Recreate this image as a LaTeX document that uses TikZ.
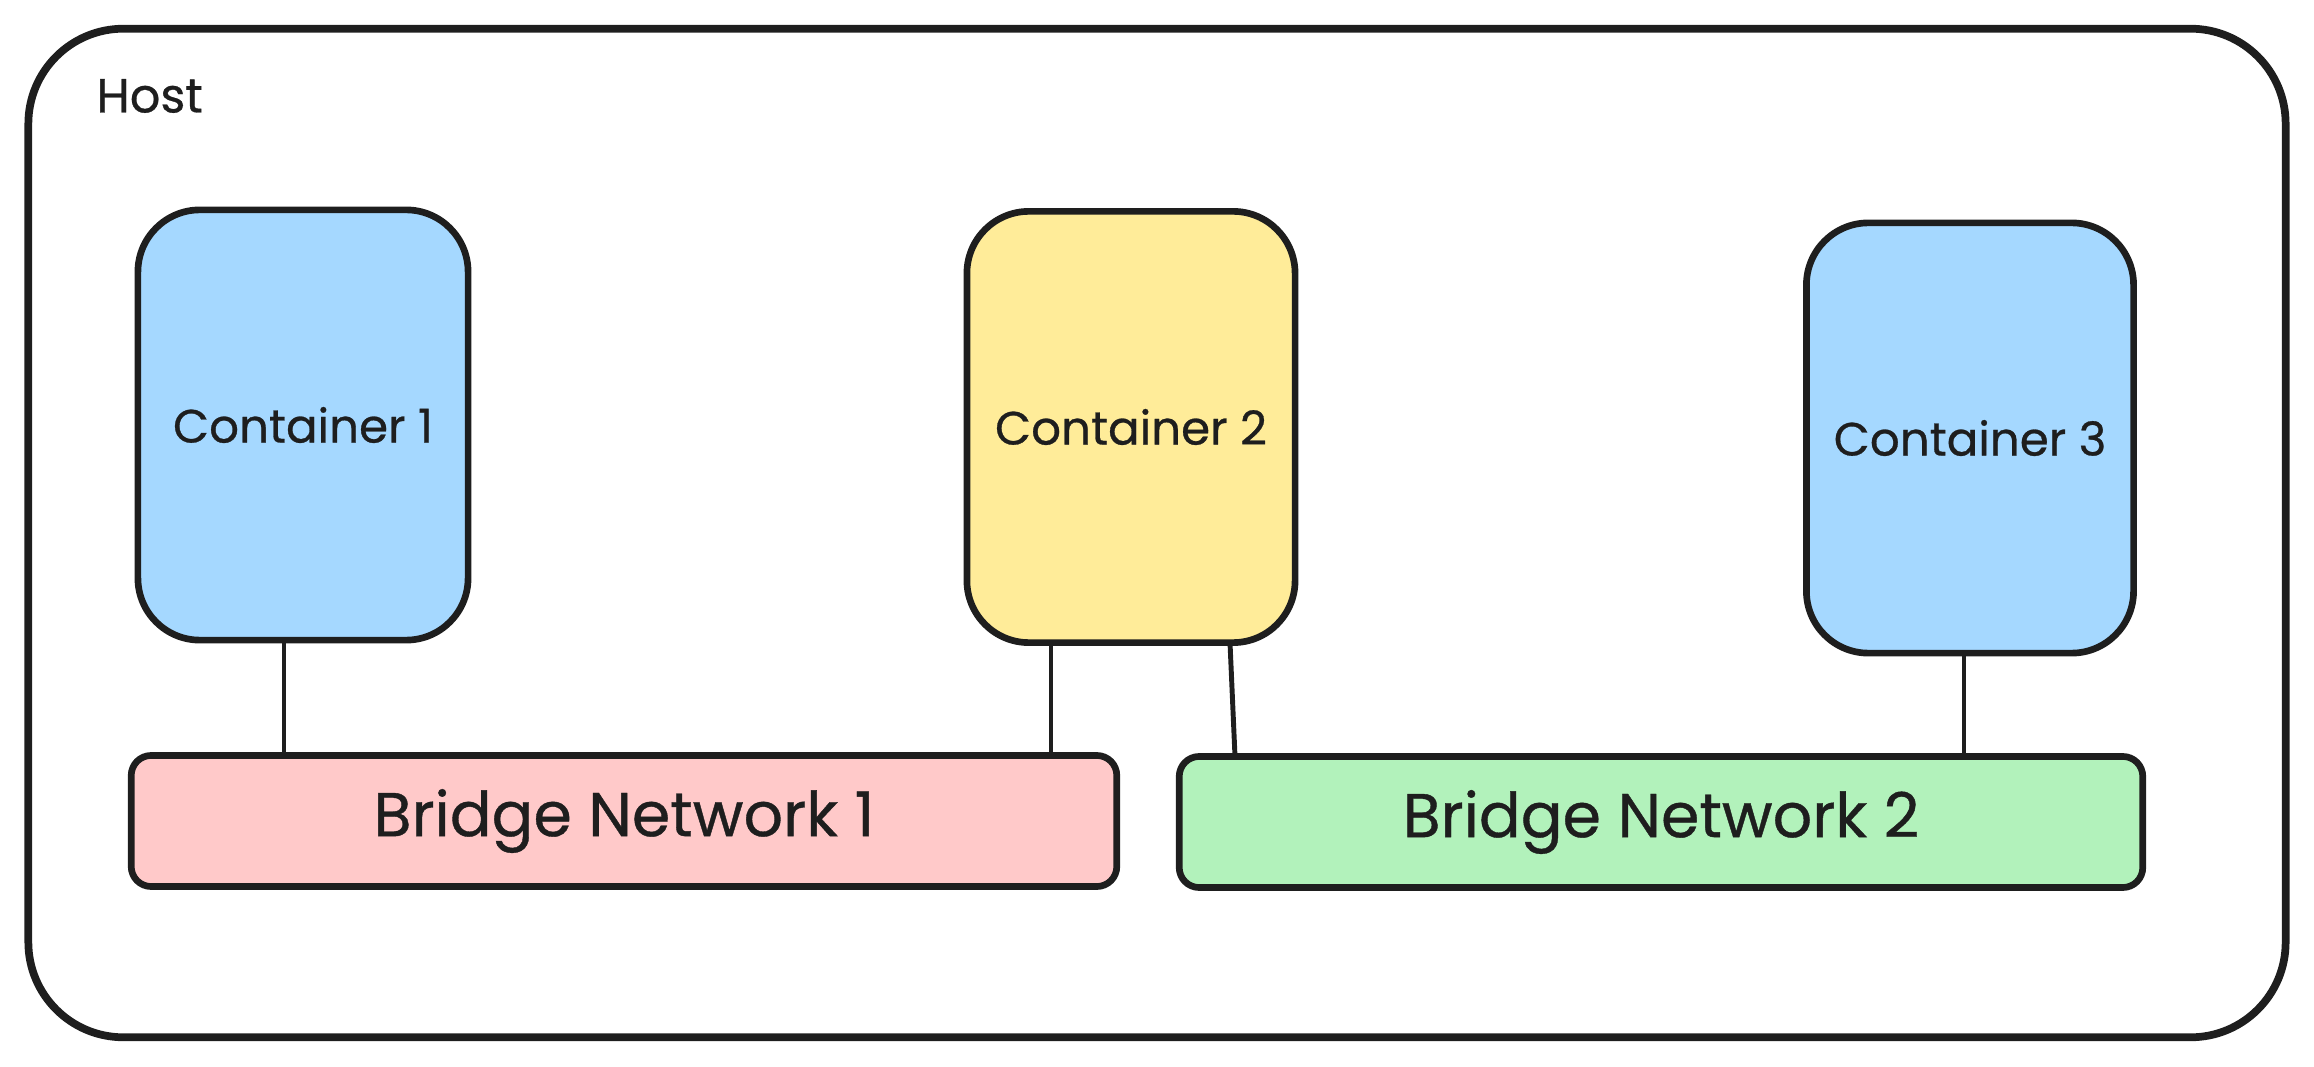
\documentclass[tikz,border=0pt]{standalone}
\usepackage{fontspec}
\setmainfont{Poppins}[FakeBold=0.6]
\definecolor{ink}{HTML}{1E1E1E}
\definecolor{cblue}{HTML}{A5D8FF}
\definecolor{cyellow}{HTML}{FFEC99}
\definecolor{cpink}{HTML}{FFC9C9}
\definecolor{cgreen}{HTML}{B2F2BB}
\tikzset{
  hostbox/.style={draw=ink, line width=2.2pt, rounded corners=0.95cm, inner sep=0pt, outer sep=0pt,
    minimum width=22.56cm, minimum height=10.08cm},
  contbox/.style={draw=ink, line width=1.9pt, rounded corners=0.62cm, inner sep=0pt, outer sep=0pt,
    minimum width=3.3cm, minimum height=4.3cm, font=\fontsize{13.3}{16}\selectfont, text=ink},
  netbox/.style={draw=ink, line width=1.9pt, rounded corners=0.2cm, inner sep=0pt, outer sep=0pt,
    minimum height=1.31cm, font=\fontsize{17.6}{21}\selectfont, text=ink},
  link/.style={draw=ink, line width=1.4pt},
  lbl/.style={font=\fontsize{13.6}{16}\selectfont, text=ink, inner sep=0pt}
}
\begin{document}
\begin{tikzpicture}[x=0.01cm, y=-0.01cm]
\useasboundingbox (0,0) rectangle (2314,1067);
\node[hostbox] (host) at (1157,533) {};
\node[lbl, anchor=west] (hostlbl) at (96,96) {Host};
\node[contbox, fill=cblue] (c1) at (303,425) {Container 1};
\node[contbox, fill=cyellow, minimum width=3.28cm, minimum height=4.31cm] (c2) at (1131,427) {Container 2};
\node[contbox, fill=cblue, minimum width=3.27cm, minimum height=4.3cm] (c3) at (1970,438) {Container 3};
\node[netbox, fill=cpink, minimum width=9.85cm] (b1) at (624,821) {Bridge Network 1};
\node[netbox, fill=cgreen, minimum width=9.63cm] (b2) at (1661,822) {Bridge Network 2};
\draw[link] (284,0 |- c1.south) -- (284,0 |- b1.north);
\draw[link] (1051,0 |- c2.south) -- (1051,0 |- b1.north);
\draw[link] (1230,0 |- c2.south) -- (1235,0 |- b2.north);
\draw[link] (1964,0 |- c3.south) -- (1964,0 |- b2.north);
\end{tikzpicture}
\end{document}
